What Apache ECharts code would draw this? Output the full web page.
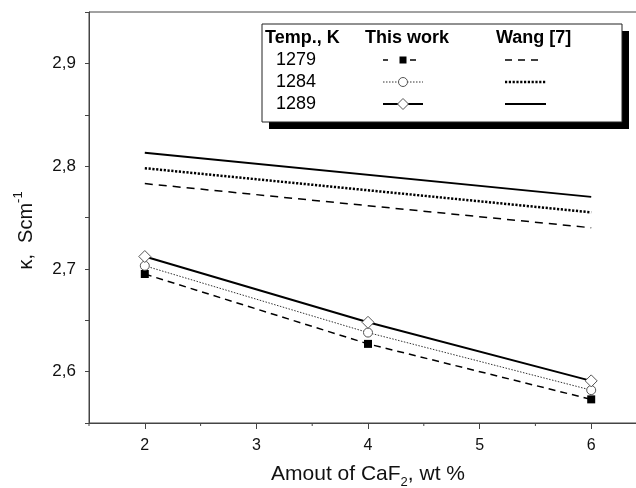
<!DOCTYPE html>
<html><head><meta charset="utf-8">
<script src="https://cdn.jsdelivr.net/npm/echarts@6/dist/echarts.min.js"></script>
<style>html,body{margin:0;padding:0;background:#fff}#c{width:636px;height:488px}</style>
</head><body><div id="c"></div>
<script>
// ---- data ----
const xValues = [2, 4, 6];
const thisWork1279 = [2.695, 2.627, 2.573];
const thisWork1284 = [2.703, 2.638, 2.582];
const thisWork1289 = [2.712, 2.648, 2.591];
const wangX = [2, 6];
const wang1279 = [2.783, 2.740];
const wang1284 = [2.798, 2.755];
const wang1289 = [2.813, 2.770];
const temps = ['1279', '1284', '1289'];
const xTickLabels = [2, 3, 4, 5, 6];
const xMinorTicks = [1.5, 2.5, 3.5, 4.5, 5.5];
const yTickLabels = [2.6, 2.7, 2.8, 2.9];

const FONT = '"Liberation Sans", Arial, sans-serif';
const pairs = (xs, ys) => xs.map((x, i) => [x, ys[i]]);

const chart = echarts.init(document.getElementById('c'), null, {renderer: 'canvas'});

const axisCol = '#444';
chart.setOption({
  animation: false,
  backgroundColor: '#fff',
  grid: {left: 89, top: 12, right: -11, bottom: 65, outerBoundsMode: 'none', containLabel: false,
    show: true, borderColor: axisCol, borderWidth: 1, backgroundColor: 'transparent'},
  xAxis: {
    type: 'value', min: 1.5, max: 6.5, interval: 0.5,
    axisLine: {show: true, lineStyle: {color: axisCol, width: 1}},
    axisTick: {show: true, customValues: xTickLabels, length: 6, lineStyle: {color: axisCol}},
    axisLabel: {customValues: xTickLabels, margin: 15, color: '#111', fontSize: 16, fontFamily: FONT},
    splitLine: {show: false},
    name: 'Amout of CaF{sub|2}, wt %', nameLocation: 'middle', nameGap: 45,
    nameTextStyle: {
      color: '#111', fontSize: 21, fontFamily: FONT, lineHeight: 30, verticalAlign: 'middle',
      rich: {sub: {fontSize: 13, fontFamily: FONT, color: '#111', verticalAlign: 'bottom', lineHeight: 30}}
    }
  },
  yAxis: {
    type: 'value', min: 2.55, max: 2.95, interval: 0.05,
    axisLine: {show: true, lineStyle: {color: axisCol, width: 1}},
    axisTick: {show: true, length: 4, lineStyle: {color: axisCol}},
    axisLabel: {customValues: yTickLabels, margin: 13, color: '#111', fontSize: 17, fontFamily: FONT,
      formatter: v => String(Math.round(v * 10) / 10).replace('.', ',')},
    splitLine: {show: false},
    name: 'κ,  Scm{sup|-1}', nameLocation: 'middle', nameGap: 50,
    nameTextStyle: {
      color: '#111', fontSize: 20, fontFamily: FONT, lineHeight: 30, verticalAlign: 'middle',
      padding: [0, 26, 0, 0],
      rich: {sup: {fontSize: 13, fontFamily: FONT, color: '#111', verticalAlign: 'top', lineHeight: 30}}
    }
  },
  series: [
    {name: 'Wang 1279', type: 'line', data: pairs(wangX, wang1279), symbol: 'none',
      lineStyle: {color: '#000', width: 1.5, type: [8, 6]}, z: 2},
    {name: 'Wang 1284', type: 'line', data: pairs(wangX, wang1284), symbol: 'none',
      lineStyle: {color: '#000', width: 2.5, type: [2.2, 1.6]}, z: 2},
    {name: 'Wang 1289', type: 'line', data: pairs(wangX, wang1289), symbol: 'none',
      lineStyle: {color: '#000', width: 1.8, type: 'solid'}, z: 2},
    {name: 'This work 1279', type: 'line', data: pairs(xValues, thisWork1279), symbol: 'rect', symbolSize: 8,
      itemStyle: {color: '#000', borderWidth: 0},
      lineStyle: {color: '#000', width: 1.5, type: [7, 5]}, z: 3},
    {name: 'This work 1284', type: 'line', data: pairs(xValues, thisWork1284), symbol: 'circle', symbolSize: 9,
      itemStyle: {color: '#fff', borderColor: '#555', borderWidth: 1},
      lineStyle: {color: '#333', width: 1, type: [1.5, 1.5]}, z: 4},
    {name: 'This work 1289', type: 'line', data: pairs(xValues, thisWork1289), symbol: 'diamond', symbolSize: 12,
      itemStyle: {color: '#fff', borderColor: '#555', borderWidth: 1},
      lineStyle: {color: '#000', width: 2, type: 'solid'}, z: 5}
  ]
});

// ---- decorations: minor x ticks and the table-like legend ----
const g = [];
xMinorTicks.forEach(v => {
  const p = chart.convertToPixel({gridIndex: 0}, [v, 2.55]);
  g.push({type: 'line', shape: {x1: p[0], y1: p[1], x2: p[0], y2: p[1] + 3}, style: {stroke: axisCol, lineWidth: 1}, z: 100});
});

const bx = 262, by = 24, bw = 360, bh = 98;
g.push({type: 'rect', shape: {x: bx + 7, y: by + 7, width: bw, height: bh}, style: {fill: '#000'}, z: 100});
g.push({type: 'rect', shape: {x: bx, y: by, width: bw, height: bh}, style: {fill: '#fff', stroke: '#222', lineWidth: 1}, z: 101});
const hdr = (t, x) => g.push({type: 'text', x: x, y: 38.5, style: {text: t, font: 'bold 18px ' + FONT, fill: '#000', align: 'left', verticalAlign: 'middle'}, z: 102});
hdr('Temp., K', 265);
hdr('This work', 365);
hdr('Wang [7]', 496);
const rowY = [60, 82, 104];
temps.forEach((t, i) => g.push({type: 'text', x: 276, y: rowY[i], style: {text: t, font: '18px ' + FONT, fill: '#000', align: 'left', verticalAlign: 'middle'}, z: 102}));
const seg = (x1, x2, y, st) => g.push({type: 'line', shape: {x1, y1: y, x2, y2: y}, style: Object.assign({stroke: '#000'}, st), z: 102});
// This work samples
seg(383, 388, rowY[0], {lineWidth: 1.5});
seg(410, 416, rowY[0], {lineWidth: 1.5});
g.push({type: 'rect', shape: {x: 399.5, y: rowY[0] - 3.5, width: 7, height: 7}, style: {fill: '#000'}, z: 103});
seg(383, 423, rowY[1], {lineWidth: 1, stroke: '#333', lineDash: [1.5, 1.5]});
g.push({type: 'circle', shape: {cx: 403, cy: rowY[1], r: 4.5}, style: {fill: '#fff', stroke: '#555', lineWidth: 1}, z: 103});
seg(383, 423, rowY[2], {lineWidth: 2});
g.push({type: 'polygon', shape: {points: [[403, rowY[2] - 5.5], [408.5, rowY[2]], [403, rowY[2] + 5.5], [397.5, rowY[2]]]}, style: {fill: '#fff', stroke: '#555', lineWidth: 1}, z: 103});
// Wang samples
seg(505, 541, rowY[0], {lineWidth: 1.5, lineDash: [7, 6]});
seg(505, 546, rowY[1], {lineWidth: 2.5, lineDash: [2.2, 1.6]});
seg(505, 546, rowY[2], {lineWidth: 1.8});

chart.setOption({graphic: g});
</script>
</body></html>
